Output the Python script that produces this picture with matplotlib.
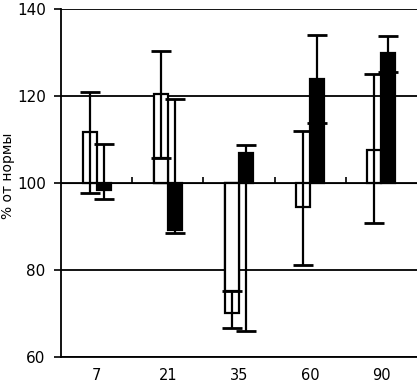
import numpy as np
import matplotlib
matplotlib.use("Agg")
import matplotlib.pyplot as plt

categories = ['7', '21', '35', '60', '90']
white = [111.7, 120.5, 70.1, 94.5, 107.6]
white_inner = [np.nan, 105.8, 75.2, np.nan, np.nan]
black = [98.5, 89.2, 106.9, 123.9, 129.8]
white_err_low = [97.7, 105.8, 66.7, 81.2, 90.9]
white_err_high = [121.0, 130.3, 75.2, 112.0, 125.0]
black_err_low = [96.3, 88.5, 66.0, 113.8, 125.6]
black_err_high = [109.0, 119.3, 108.7, 134.0, 133.8]
yticks = [60, 80, 100, 120, 140]
base = 100

plt.rcParams['font.family'] = ['DejaVu Sans']
fig = plt.figure(figsize=(4.17, 3.86), dpi=100)
ax = fig.add_axes([61/417, 29/386, 356/417, 348/386])

x = np.arange(len(categories))
w = 0.197

wv = np.array(white); bv = np.array(black); iv = np.array(white_inner)
ax.bar(x - w/2, wv - base, w, bottom=base, color='white', edgecolor='black',
       linewidth=1.6, zorder=2)
ax.bar(x - w/2, iv - base, w, bottom=base, color='white', edgecolor='black',
       linewidth=1.6, zorder=2.1)
ax.bar(x + w/2, bv - base, w, bottom=base, color='black', edgecolor='black',
       linewidth=1.6, zorder=2)

wlo = np.array(white_err_low); whi = np.array(white_err_high)
blo = np.array(black_err_low); bhi = np.array(black_err_high)
wmid = (wlo + whi) / 2
bmid = (blo + bhi) / 2
ax.errorbar(x - w/2, wmid, yerr=[wmid - wlo, whi - wmid], fmt='none',
            ecolor='black', elinewidth=1.6, capsize=7.5, capthick=2, zorder=3)
ax.errorbar(x + w/2, bmid, yerr=[bmid - blo, bhi - bmid], fmt='none',
            ecolor='black', elinewidth=1.6, capsize=7.5, capthick=2, zorder=3)

ax.set_xlim(-0.5, len(categories) - 0.5)
ax.set_ylim(60, 140)
ax.set_yticks(yticks)
ax.set_yticklabels([str(t) for t in yticks], fontsize=11)
ax.set_xticks(x)
ax.set_xticklabels(categories, fontsize=10.5)
ax.tick_params(axis='x', length=0, pad=8)
ax.tick_params(axis='y', length=5, width=1.2, pad=6, direction='out')
ax.yaxis.grid(True, color='black', linewidth=1.3, zorder=1)
ax.set_axisbelow(True)

for s in ['top', 'right']:
    ax.spines[s].set_visible(False)
ax.spines['left'].set_linewidth(1.3)
ax.spines['bottom'].set_linewidth(1.3)

sec = ax.secondary_xaxis((base - 60) / 80)
sec.set_xticks(x[:-1] + 0.5)
sec.set_xticklabels([])
sec.tick_params(axis='x', direction='out', length=4, width=1.2)
sec.spines['bottom'].set_linewidth(1.3)

ax.set_ylabel('% от нормы', fontsize=10)
ax.yaxis.set_label_coords(-0.13, 0.52)

fig.savefig('out.png', dpi=100)
